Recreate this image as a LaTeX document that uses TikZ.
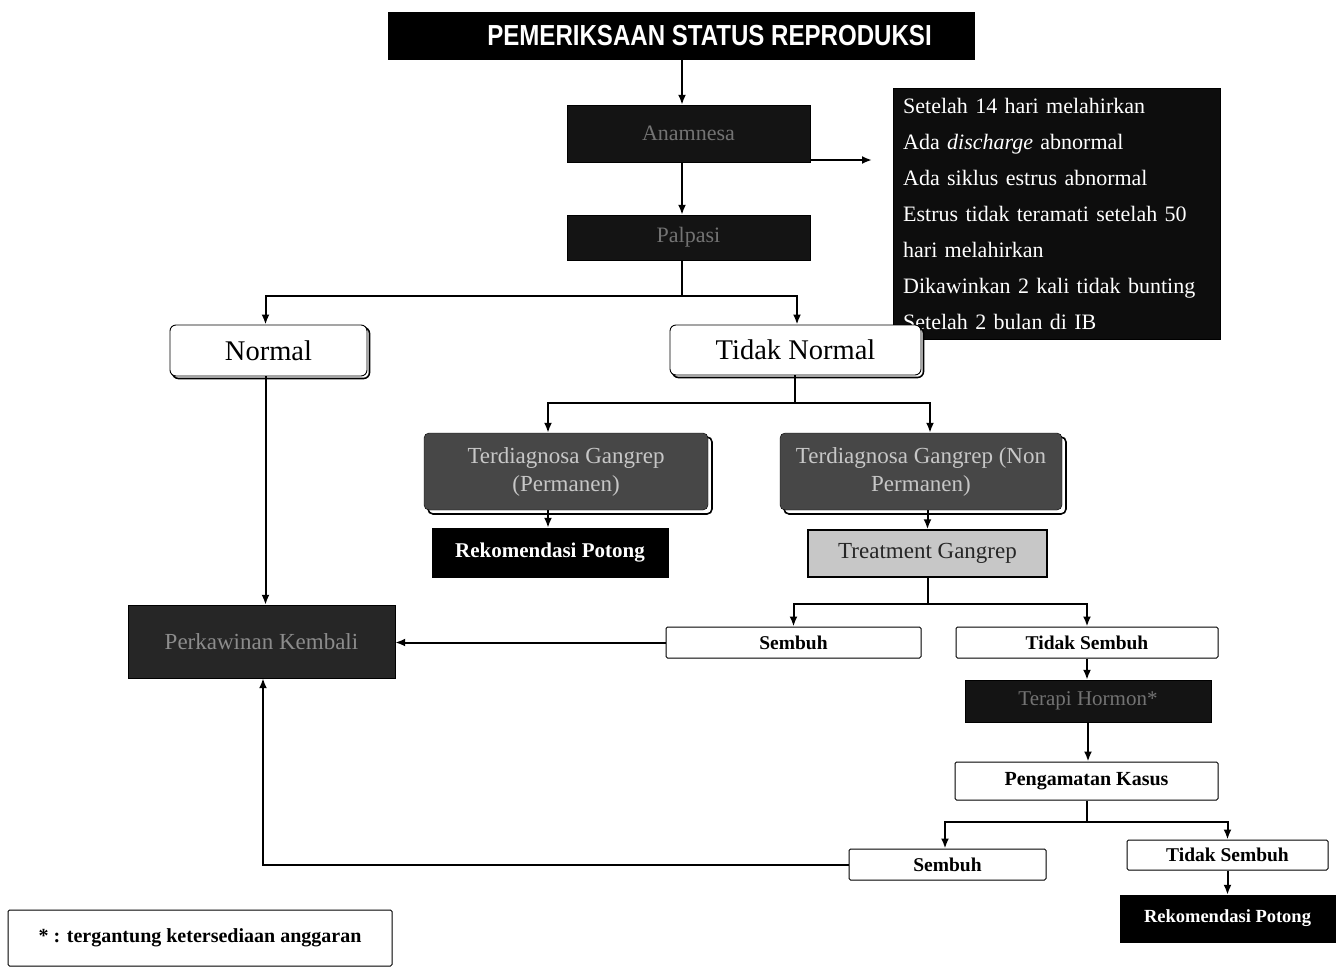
\documentclass[tikz,border=0pt]{standalone}
\usepackage{fontspec}
\setmainfont{Liberation Serif}
\newfontfamily\sansfam{Liberation Sans}
\usetikzlibrary{arrows.meta,shadows}
\begin{document}
\begin{tikzpicture}[x=1pt,y=-1pt,
  conn/.style={line width=2pt,-{Latex[length=10pt,width=8pt]}},
  plain/.style={line width=2pt},
  darkbox/.style={fill=black!92,draw=black,inner sep=0pt,text=black!55,align=center,font=\fontsize{22}{24}\selectfont},
  greybox/.style={fill=black!72,draw=black,inner sep=0pt,text=black!22,align=center,rounded corners=5pt,
    font=\fontsize{23}{28}\selectfont,
    drop shadow={shadow xshift=4pt,shadow yshift=-4pt,fill=white,draw=black,line width=1.6pt,opacity=1}},
  roundbox/.style={draw=black,line width=0.9pt,fill=white,rounded corners=6pt,inner sep=0pt,
    font=\fontsize{28.5}{30}\selectfont,
    drop shadow={shadow xshift=2.5pt,shadow yshift=-2.5pt,fill=white,draw=black,line width=1.6pt,opacity=1}},
  plainbox/.style={draw=black,line width=1pt,fill=white,inner sep=0pt,rounded corners=1.5pt,
    font=\bfseries\fontsize{19.5}{21}\selectfont},
  blackbox/.style={fill=black,draw=black,inner sep=0pt,text=white,font=\bfseries\fontsize{21}{23}\selectfont},
]
\useasboundingbox (0,0) rectangle (1338,969);
% title
\node[fill=black,inner sep=0pt,minimum width=587pt,minimum height=48pt,text=white,
  font=\sansfam\bfseries\fontsize{29}{31}\selectfont] (title) at (681.5,36)
  {\hspace*{56pt}\scalebox{0.83}[1]{PEMERIKSAAN STATUS REPRODUKSI}};
\node[darkbox,minimum width=243pt,minimum height=57pt] (ana) at (688.5,133.5) {Anamnesa};
\node[darkbox,minimum width=243pt,minimum height=45pt] (palp) at (688.5,237.5) {Palpasi};
% list box
\node[fill=black!95,draw=black,anchor=north west,minimum width=327pt,minimum height=245pt,
  text width=307pt,inner sep=10pt,align=left,text=white,font=\fontsize{22}{36}\selectfont] (list) at (893,88)
  {Setelah 14 hari melahirkan\\
   Ada \textit{discharge} abnormal\\
   Ada siklus estrus abnormal\\
   Estrus tidak teramati setelah 50\\
   hari melahirkan\\
   Dikawinkan 2 kali tidak bunting\\
   Setelah 2 bulan di IB};
\node[roundbox,minimum width=197pt,minimum height=51pt] (normal) at (268.5,350.5) {Normal};
\node[roundbox,minimum width=251pt,minimum height=50pt] (tn) at (795.5,350) {Tidak Normal};
\node[greybox,minimum width=284pt,minimum height=77pt] (tgp) at (566,471.5) {Terdiagnosa Gangrep\\(Permanen)};
\node[greybox,minimum width=282pt,minimum height=77pt] (tgn) at (921,471.5) {Terdiagnosa Gangrep (Non\\Permanen)};
\node[blackbox,minimum width=236pt,minimum height=49pt] (rk1) at (550,552.5) {Rekomendasi Potong};
\node[fill=black!22,draw=black,line width=1.4pt,inner sep=0pt,minimum width=239pt,minimum height=47pt,
  text=black!85,font=\fontsize{23}{25}\selectfont] (tg) at (927.5,553.5) {Treatment Gangrep};
\node[plainbox,minimum width=255pt,minimum height=31pt] (sb1) at (793.5,642.5) {Sembuh};
\node[plainbox,minimum width=262pt,minimum height=31pt] (ts1) at (1087,642.5) {Tidak Sembuh};
\node[darkbox,fill=black!85,text=black!45,minimum width=267pt,minimum height=73pt,font=\fontsize{23}{25}\selectfont] (pk) at (261.5,641.5) {Perkawinan Kembali};
\node[darkbox,minimum width=246pt,minimum height=42pt,font=\fontsize{21}{23}\selectfont] (ter) at (1088,701) {Terapi Hormon*};
\node[plainbox,minimum width=263pt,minimum height=38pt,font=\bfseries\fontsize{20}{22}\selectfont] (pg) at (1086.5,781) {Pengamatan Kasus};
\node[plainbox,minimum width=197pt,minimum height=31pt] (sb2) at (947.5,864.5) {Sembuh};
\node[plainbox,minimum width=201pt,minimum height=30pt] (ts2) at (1227.5,855) {Tidak Sembuh};
\node[blackbox,minimum width=215pt,minimum height=47pt,font=\bfseries\fontsize{18.5}{20}\selectfont] (rk2) at (1227.5,918.5) {Rekomendasi Potong};
\node[plainbox,minimum width=384pt,minimum height=56pt,font=\bfseries\fontsize{20}{22}\selectfont] (fn) at (200,938) {* : tergantung ketersediaan anggaran};
% connectors
\coordinate (listin) at (872,160);
\draw[conn] (title.south -| 682,0) -- (682,0 |- ana.north);
\draw[conn] (682,160 -| ana.east) -- (listin);
\draw[conn] (682,0 |- ana.south) -- (682,0 |- palp.north);
\coordinate (j1) at (682,296);
\draw[plain] (682,0 |- palp.south) -- (j1);
\draw[conn] (j1) -| ([xshift=-3pt]normal.north);
\draw[conn] (j1) -| ([xshift=1.5pt]tn.north);
\coordinate (j2) at (795,403);
\draw[plain] (tn.south -| j2) -- (j2);
\draw[conn] (j2) -| ([xshift=-18pt]tgp.north);
\draw[conn] (j2) -| ([xshift=9pt]tgn.north);
\draw[conn] ([xshift=-18pt]tgp.south) -- ([xshift=-18pt]tgp.south |- rk1.north);
\draw[conn] (tg.north |- tgn.south) -- (tg.north);
\coordinate (j3) at (927.5,604);
\draw[plain] (tg.south) -- (j3);
\draw[conn] (j3) -| (sb1.north);
\draw[conn] (j3) -| (ts1.north);
\draw[conn] (sb1.west) -- (pk.east |- sb1.west);
\draw[conn] ([xshift=-3pt]normal.south) -- ([xshift=-3pt]normal.south |- pk.north);
\draw[conn] (ts1.south) -- (ts1.south |- ter.north);
\draw[conn] (ter.south) -- (ter.south |- pg.north);
\coordinate (j4) at (1086.5,822);
\draw[plain] (pg.south) -- (j4);
\draw[conn] (j4) -| ([xshift=-2.5pt]sb2.north);
\draw[conn] (j4) -| (ts2.north);
\draw[conn] (sb2.west) -| ([xshift=1.5pt]pk.south);
\draw[conn] (ts2.south) -- (rk2.north);
\end{tikzpicture}
\end{document}
